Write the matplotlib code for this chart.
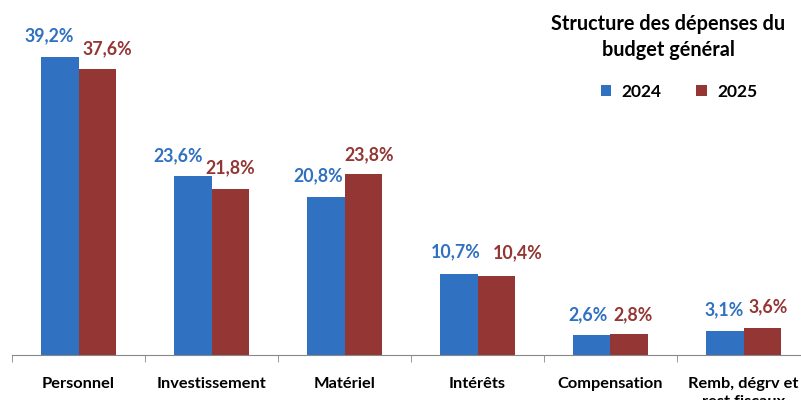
import numpy as np
import matplotlib.pyplot as plt

categories = ['Personnel', 'Investissement', 'Matériel', 'Intérêts',
              'Compensation', 'Remb, dégrv et\nrest fiscaux']
v2024 = [39.2, 23.6, 20.8, 10.7, 2.6, 3.1]
v2025 = [37.6, 21.8, 23.8, 10.4, 2.8, 3.6]

# label nudges in pixels (labels were placed by hand in the original)
dx24 = [-11, -15, -8, -3, -4, -1]
dy24 = [13, 11, 13, 13, 12, 13]
dx25 = [10, 0, 6, 22, 4, 6]
dy25 = [12, 13, 11, 15, 10, 12]

blue = '#3071c1'
red = '#943634'
plt.rcParams['font.family'] = ['Lato', 'DejaVu Sans']

fig = plt.figure(figsize=(8.01, 4.0), dpi=100)
ax = fig.add_axes([12/801, 45/400, 798/801, 342/400])

x = np.arange(len(categories))
w = 0.28
ax.bar(x - w/2, v2024, w, color=blue, label='2024')
ax.bar(x + w/2, v2025, w, color=red, label='2025')

for i in range(len(categories)):
    ax.annotate('{:.1f}%'.format(v2024[i]).replace('.', ','), (x[i] - w/2, v2024[i]),
                xytext=(dx24[i], dy24[i]), textcoords='offset pixels', ha='center', va='bottom',
                color=blue, fontsize=12.8, fontweight='bold')
    ax.annotate('{:.1f}%'.format(v2025[i]).replace('.', ','), (x[i] + w/2, v2025[i]),
                xytext=(dx25[i], dy25[i]), textcoords='offset pixels', ha='center', va='bottom',
                color=red, fontsize=12.8, fontweight='bold')

ax.set_xlim(-0.5, len(categories) - 0.5)
ax.set_ylim(0, 45)
ax.set_yticks([])
ax.set_xticks(np.arange(len(categories) + 1) - 0.5, minor=True)
ax.set_xticks(x)
ax.set_xticklabels(categories, fontsize=11.8, fontweight='bold', va='top', linespacing=1.3)
ax.tick_params(axis='x', which='major', length=0, pad=16)
ax.tick_params(axis='x', which='minor', length=5, color='#888888')
for s in ['top', 'right', 'left']:
    ax.spines[s].set_visible(False)
ax.spines['bottom'].set_color('#888888')

fig.text(668/801, 1 - 37/400, 'Structure des dépenses du\nbudget général', ha='center',
         va='center', fontsize=14.3, fontweight='bold', linespacing=1.4)
leg = fig.legend(loc='center', bbox_to_anchor=(679/801, 1 - 92/400), ncol=2, frameon=False,
                 prop={'weight': 'bold', 'size': 12.5}, handlelength=0.6, handleheight=0.6,
                 columnspacing=2.0, handletextpad=0.6)

fig.savefig('out.png', dpi=100)
